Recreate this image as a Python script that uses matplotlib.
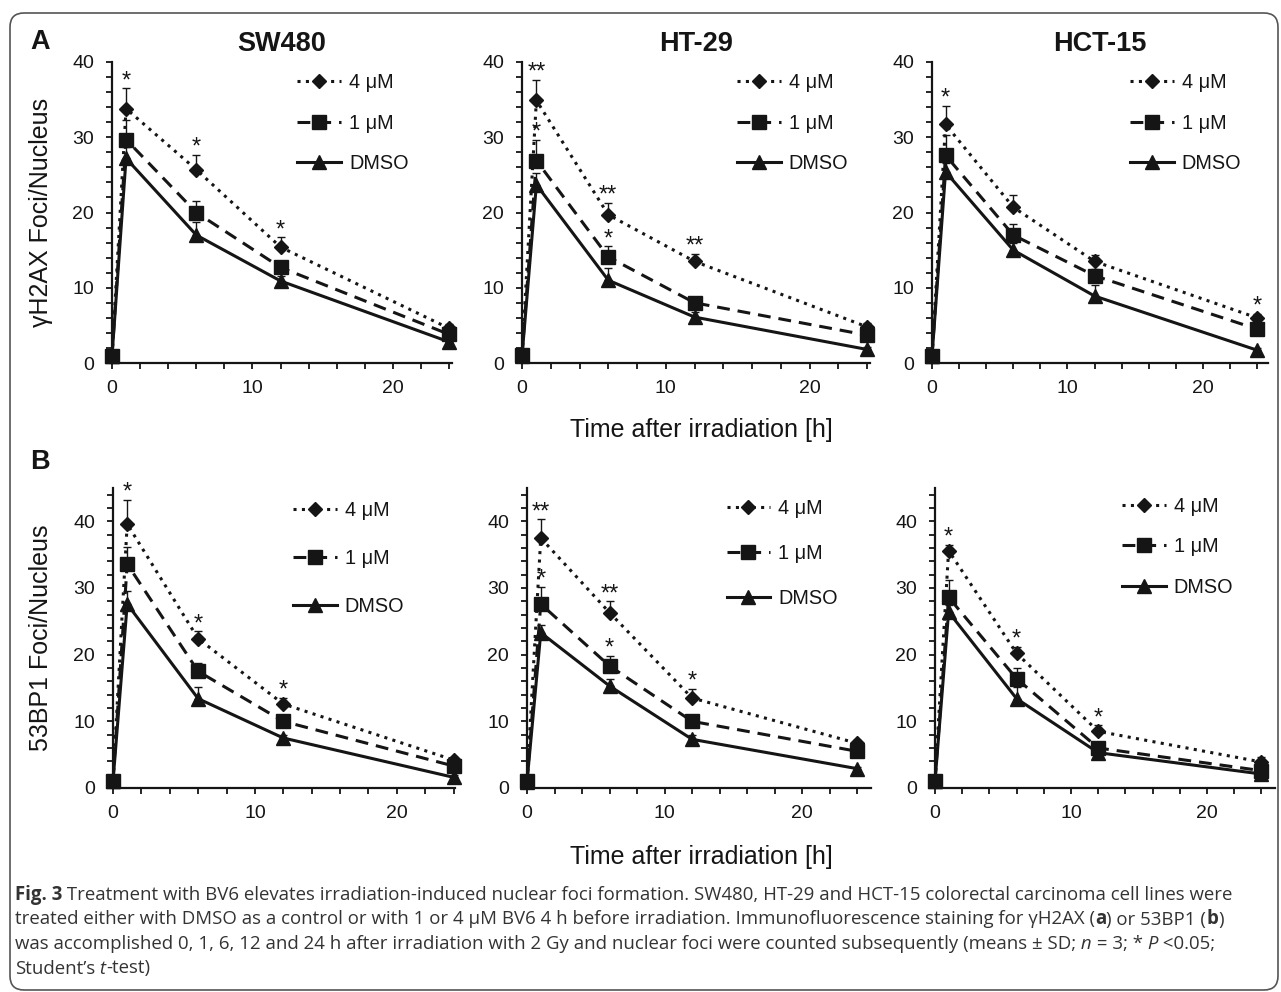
import matplotlib
matplotlib.use("Agg")
import matplotlib.pyplot as plt
from matplotlib.patches import FancyBboxPatch
from matplotlib.ticker import MultipleLocator
import numpy as np

# ---------------- data ----------------
time_h = [0, 1, 6, 12, 24]
series_labels = ["4 μM", "1 μM", "DMSO"]
cell_lines = ["SW480", "HT-29", "HCT-15"]
panel_letters = ["A", "B"]
ylabels = ["γH2AX Foci/Nucleus", "53BP1 Foci/Nucleus"]
xlabel = "Time after irradiation [h]"

# gamma-H2AX (panel A): means and upper SD
a_sw480_4uM = [1.0, 33.8, 25.7, 15.4, 4.6]
a_sw480_1uM = [0.9, 29.7, 20.0, 12.7, 3.8]
a_sw480_dmso = [0.9, 27.2, 17.0, 10.9, 2.8]
a_sw480_4uM_sd = [0.3, 2.7, 2.0, 1.3, 0.6]
a_sw480_1uM_sd = [0.3, 2.6, 1.5, 0.9, 0.5]
a_sw480_dmso_sd = [0.2, 1.5, 1.7, 0.7, 0.4]
a_sw480_4uM_sig = ["", "*", "*", "*", ""]
a_sw480_1uM_sig = ["", "", "", "", ""]

a_ht29_4uM = [1.1, 34.9, 19.7, 13.5, 4.8]
a_ht29_1uM = [1.0, 26.9, 14.1, 8.0, 3.7]
a_ht29_dmso = [0.9, 23.7, 11.0, 6.1, 1.8]
a_ht29_4uM_sd = [0.3, 2.7, 1.6, 1.0, 0.5]
a_ht29_1uM_sd = [0.3, 2.8, 1.4, 0.8, 0.4]
a_ht29_dmso_sd = [0.2, 1.5, 1.6, 0.7, 0.3]
a_ht29_4uM_sig = ["", "**", "**", "**", ""]
a_ht29_1uM_sig = ["", "*", "*", "", ""]

a_hct15_4uM = [1.0, 31.7, 20.7, 13.5, 6.0]
a_hct15_1uM = [0.9, 27.6, 17.0, 11.6, 4.5]
a_hct15_dmso = [0.9, 25.4, 15.0, 8.9, 1.7]
a_hct15_4uM_sd = [0.3, 2.5, 1.6, 0.9, 0.5]
a_hct15_1uM_sd = [0.3, 2.7, 1.5, 0.9, 0.5]
a_hct15_dmso_sd = [0.2, 1.2, 1.0, 1.5, 0.3]
a_hct15_4uM_sig = ["", "*", "", "", "*"]
a_hct15_1uM_sig = ["", "", "", "", ""]

# 53BP1 (panel B)
b_sw480_4uM = [1.2, 39.6, 22.4, 12.6, 4.2]
b_sw480_1uM = [1.1, 33.6, 17.5, 10.0, 3.3]
b_sw480_dmso = [1.0, 27.6, 13.4, 7.5, 1.6]
b_sw480_4uM_sd = [0.3, 3.6, 1.1, 0.9, 0.5]
b_sw480_1uM_sd = [0.3, 2.6, 1.2, 0.6, 0.4]
b_sw480_dmso_sd = [0.2, 2.0, 1.8, 0.5, 0.3]
b_sw480_4uM_sig = ["", "*", "*", "*", ""]
b_sw480_1uM_sig = ["", "", "", "", ""]

b_ht29_4uM = [1.1, 37.5, 26.3, 13.5, 6.7]
b_ht29_1uM = [1.0, 27.6, 18.3, 10.0, 5.5]
b_ht29_dmso = [0.9, 23.3, 15.3, 7.3, 2.9]
b_ht29_4uM_sd = [0.3, 2.8, 1.7, 1.4, 0.5]
b_ht29_1uM_sd = [0.3, 2.6, 1.5, 0.8, 0.5]
b_ht29_dmso_sd = [0.2, 1.2, 1.0, 0.6, 0.3]
b_ht29_4uM_sig = ["", "**", "**", "*", ""]
b_ht29_1uM_sig = ["", "*", "*", "", ""]

b_hct15_4uM = [1.2, 35.6, 20.2, 8.5, 3.9]
b_hct15_1uM = [1.1, 28.6, 16.4, 6.0, 2.6]
b_hct15_dmso = [1.0, 26.4, 13.4, 5.3, 2.1]
b_hct15_4uM_sd = [0.3, 0.9, 1.0, 0.9, 0.8]
b_hct15_1uM_sd = [0.3, 2.6, 1.6, 0.6, 0.5]
b_hct15_dmso_sd = [0.2, 1.0, 1.8, 0.5, 0.3]
b_hct15_4uM_sig = ["", "*", "*", "*", ""]
b_hct15_1uM_sig = ["", "", "", "", ""]

caption_lines = [
    [("Fig. 3", "bold", "normal"),
     (" Treatment with BV6 elevates irradiation-induced nuclear foci formation. SW480, HT-29 and HCT-15 colorectal carcinoma cell lines were", "normal", "normal")],
    [("treated either with DMSO as a control or with 1 or 4 µM BV6 4 h before irradiation. Immunofluorescence staining for γH2AX (", "normal", "normal"),
     ("a", "bold", "normal"), (") or 53BP1 (", "normal", "normal"), ("b", "bold", "normal"), (")", "normal", "normal")],
    [("was accomplished 0, 1, 6, 12 and 24 h after irradiation with 2 Gy and nuclear foci were counted subsequently (means ± SD;", "normal", "normal"),
     (" n", "normal", "italic"), (" = 3; *", "normal", "normal"), (" P", "normal", "italic"), (" <0.05;", "normal", "normal")],
    [("Student’s", "normal", "normal"), (" t", "normal", "italic"), ("-test)", "normal", "normal")],
]

panels = [
    # row, col, (4uM, 1uM, DMSO), sds, sigs
    (0, 0, (a_sw480_4uM, a_sw480_1uM, a_sw480_dmso), (a_sw480_4uM_sd, a_sw480_1uM_sd, a_sw480_dmso_sd), (a_sw480_4uM_sig, a_sw480_1uM_sig)),
    (0, 1, (a_ht29_4uM, a_ht29_1uM, a_ht29_dmso), (a_ht29_4uM_sd, a_ht29_1uM_sd, a_ht29_dmso_sd), (a_ht29_4uM_sig, a_ht29_1uM_sig)),
    (0, 2, (a_hct15_4uM, a_hct15_1uM, a_hct15_dmso), (a_hct15_4uM_sd, a_hct15_1uM_sd, a_hct15_dmso_sd), (a_hct15_4uM_sig, a_hct15_1uM_sig)),
    (1, 0, (b_sw480_4uM, b_sw480_1uM, b_sw480_dmso), (b_sw480_4uM_sd, b_sw480_1uM_sd, b_sw480_dmso_sd), (b_sw480_4uM_sig, b_sw480_1uM_sig)),
    (1, 1, (b_ht29_4uM, b_ht29_1uM, b_ht29_dmso), (b_ht29_4uM_sd, b_ht29_1uM_sd, b_ht29_dmso_sd), (b_ht29_4uM_sig, b_ht29_1uM_sig)),
    (1, 2, (b_hct15_4uM, b_hct15_1uM, b_hct15_dmso), (b_hct15_4uM_sd, b_hct15_1uM_sd, b_hct15_dmso_sd), (b_hct15_4uM_sig, b_hct15_1uM_sig)),
]

# ---------------- layout / style ----------------
W, H = 1281, 992
FONT = "Liberation Sans"
plt.rcParams["font.family"] = [FONT, "DejaVu Sans"]
INK = "#151515"

row_geom = {0: dict(bottom=363, height=301, ymax=40), 1: dict(bottom=788, height=300, ymax=45)}
panel_geom = {
    (0, 0): dict(left=112, width=340, xmax=24.2, leg=(0.545, 0.962), ls=1.07),
    (0, 1): dict(left=522, width=348, xmax=24.2, leg=(0.618, 0.962), ls=1.07),
    (0, 2): dict(left=932, width=336, xmax=24.8, leg=(0.589, 0.962), ls=1.07),
    (1, 0): dict(left=113, width=342, xmax=24.1, leg=(0.526, 0.957), ls=1.46),
    (1, 1): dict(left=527, width=344, xmax=25.0, leg=(0.580, 0.963), ls=1.30),
    (1, 2): dict(left=935, width=340, xmax=25.0, leg=(0.550, 0.970), ls=1.07),
}
styles = [
    dict(ls=(0, (1.0, 1.75)), marker="D", ms=6.8, z=4),
    dict(ls=(0, (4.2, 2.6)), marker="s", ms=9.5, z=5),
    dict(ls="-", marker="^", ms=9.8, z=4),
]

fig = plt.figure(figsize=(W / 100, H / 100), dpi=100)

for row, col, means, sds, sigs in panels:
    rg = row_geom[row]
    pg = panel_geom[(row, col)]
    ax = fig.add_axes([pg["left"] / W, (H - rg["bottom"]) / H, pg["width"] / W, rg["height"] / H])
    handles = []
    for i, (m, sd) in enumerate(zip(means, sds)):
        st = styles[i]
        ax.errorbar(time_h, m, yerr=[np.zeros(len(sd)), sd], fmt="none", ecolor=INK,
                    elinewidth=1.0, capsize=2.9, capthick=1.0, zorder=3, clip_on=False)
        ln, = ax.plot(time_h, m, color=INK, lw=2.2, linestyle=st["ls"], marker=st["marker"],
                      ms=st["ms"], mfc=INK, mec=INK, dash_capstyle="butt",
                      zorder=st["z"], clip_on=False, label=series_labels[i])
        handles.append(ln)
    for i in range(2):
        for x, y, e, s in zip(time_h, means[i], sds[i], sigs[i]):
            if s:
                ax.annotate(s, (x, y + e), xytext=(0, 5.2), textcoords="offset points",
                            ha="center", va="center", fontsize=17, color=INK, zorder=6)
    ax.set_xlim(0, pg["xmax"])
    ax.set_ylim(0, rg["ymax"])
    ax.xaxis.set_major_locator(MultipleLocator(10))
    ax.xaxis.set_minor_locator(MultipleLocator(2))
    ax.yaxis.set_major_locator(MultipleLocator(10))
    ax.yaxis.set_minor_locator(MultipleLocator(2))
    for sp in ["top", "right"]:
        ax.spines[sp].set_visible(False)
    for sp in ["left", "bottom"]:
        ax.spines[sp].set_linewidth(1.6)
        ax.spines[sp].set_color(INK)
    ax.tick_params(which="both", direction="out", length=4, width=1.3, color=INK)
    ax.tick_params(axis="x", which="major", pad=8, labelsize=14, labelcolor=INK)
    ax.tick_params(axis="y", which="major", pad=9, labelsize=14, labelcolor=INK)
    ax.set_facecolor("none")
    if row == 0:
        ax.set_title(cell_lines[col], fontsize=19.5, fontweight="bold", pad=8, color=INK)
    ax.legend(handles=handles, loc="upper left", bbox_to_anchor=pg["leg"], frameon=False,
              borderpad=0, borderaxespad=0, fontsize=14.3, handlelength=2.2,
              handletextpad=0.4, labelspacing=pg["ls"], numpoints=1, labelcolor=INK)

# panel letters, axis labels
for letter, yc in zip(panel_letters, [42, 462]):
    fig.text(40 / W, 1 - yc / H, letter, fontsize=19.5, fontweight="bold", ha="center", va="center", color=INK)
for lab, yc in zip(ylabels, [212.5, 638]):
    fig.text(41 / W, 1 - yc / H, lab, fontsize=18, rotation=90, ha="center", va="center", color=INK)
for yc in [430, 857]:
    fig.text(701 / W, 1 - yc / H, xlabel, fontsize=18, ha="center", va="center", color=INK)

# border
border = FancyBboxPatch((10, 2), 1268, 977, boxstyle="round,pad=0,rounding_size=14",
                        transform=None, fill=False, ec="#555555", lw=1.2, zorder=0)
fig.patches.append(border)

# caption (mixed styles, chained pieces)
renderer = fig.canvas.get_renderer()
cap_fs = 13.4
for baseline, pieces in zip([900, 924.5, 949, 973.5], caption_lines):
    x = 15.0
    for s, weight, style in pieces:
        t = fig.text(x / W, 1 - baseline / H, s, fontsize=cap_fs, family=["Open Sans", "DejaVu Sans"],
                     fontweight=weight, fontstyle=style, ha="left", va="baseline", color="#333333")
        bb = t.get_window_extent(renderer)
        x = bb.x1

fig.savefig("out.png", dpi=100)
